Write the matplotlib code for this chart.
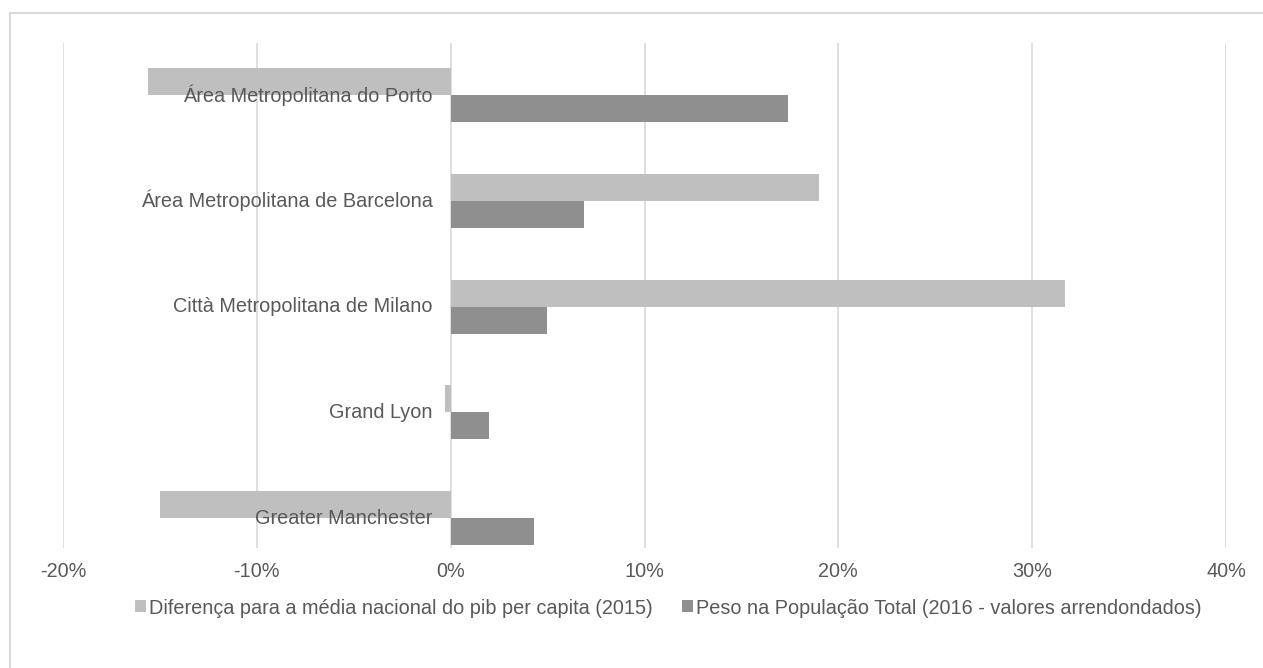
import matplotlib.pyplot as plt
from matplotlib.patches import Rectangle
from matplotlib.ticker import FuncFormatter
from matplotlib.transforms import offset_copy

plt.rcParams['font.family'] = ['Liberation Sans', 'DejaVu Sans']

regions = ["Área Metropolitana do Porto", "Área Metropolitana de Barcelona",
           "Città Metropolitana de Milano", "Grand Lyon", "Greater Manchester"]
pib_diff = [-15.6, 19.0, 31.7, -0.28, -15.0]
pop_share = [17.4, 6.9, 4.97, 1.97, 4.28]
series_names = ["Diferença para a média nacional do pib per capita (2015)",
                "Peso na População Total (2016 - valores arrendondados)"]

light = "#BFBFBF"
dark = "#8F8F8F"
grid = "#D9D9D9"
text_col = "#595959"
fs = 14.3

fig = plt.figure(figsize=(12.63, 6.68), dpi=100)
ax = fig.add_axes([63 / 1263, 1 - 548 / 668, (1226 - 63) / 1263, (548 - 43) / 668])

h = 0.255
ypos = list(range(len(regions)))
ax.barh([y - h / 2 for y in ypos], pib_diff, height=h, color=light, label=series_names[0], zorder=2)
ax.barh([y + h / 2 for y in ypos], pop_share, height=h, color=dark, label=series_names[1], zorder=2)

ax.set_xlim(-20, 40)
ax.set_ylim(4.28, -0.49)
ax.set_xticks(range(-20, 41, 10))
ax.xaxis.set_major_formatter(FuncFormatter(lambda v, p: f"{v:.0f}%"))
ax.set_yticks([])
ax.grid(axis='x', color=grid, linewidth=1.2, zorder=0)
for s in ax.spines.values():
    s.set_visible(False)
ax.tick_params(axis='x', length=0, labelsize=fs, labelcolor=text_col, pad=10)

# category names sit next to the zero line
lab_tr = offset_copy(ax.transData, fig=fig, x=-18, y=0, units='dots')
for y, name in zip(ypos, regions):
    ax.text(0, y, name, transform=lab_tr, ha='right', va='center',
            fontsize=fs, color=text_col, zorder=3)

fig.legend(loc='center', bbox_to_anchor=(0.5 + 37 / 1263, 1 - 608 / 668), ncol=2, frameon=False,
           fontsize=fs, labelcolor=text_col, handlelength=0.55, handleheight=0.55,
           handletextpad=0.15, columnspacing=1.5)

# chart border, cut off at the right and bottom edges
fig.add_artist(Rectangle((10 / 1263, -0.05), 1.1, 1.05 - 13 / 668,
                         transform=fig.transFigure, fill=False, edgecolor=grid, linewidth=1.5))

fig.savefig("out.png", dpi=100)
